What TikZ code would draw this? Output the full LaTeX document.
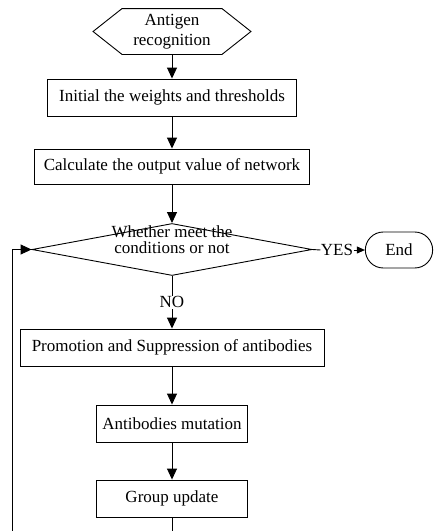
\documentclass[tikz,border=0pt]{standalone}
\usepackage{fontspec}
\setmainfont{Liberation Serif}
\usetikzlibrary{arrows.meta,shapes.geometric,shapes.misc}
\tikzset{
  box/.style={draw,rectangle,minimum height=37pt,inner sep=0pt},
  flow/.style={->,>={Triangle[length=11pt,width=10pt]}},
}
\begin{document}
\begin{tikzpicture}[x=1pt,y=-1pt,line width=0.9pt,font=\fontsize{17}{20}\selectfont]
\useasboundingbox (0,0) rectangle (437,531);
\clip (0,0) rectangle (437,531);
\node[minimum width=157pt,minimum height=45pt,align=center,inner sep=0pt] (ag) at (172,31.5) {Antigen\\recognition};
\draw (ag.west) -- ([xshift=29pt]ag.north west) -- ([xshift=-29pt]ag.north east) -- (ag.east)
  -- ([xshift=-29pt]ag.south east) -- ([xshift=29pt]ag.south west) -- cycle;
\node[box,minimum width=249pt] (init) at (172,97.5) {Initial the weights and thresholds};
\node[box,minimum width=275pt,minimum height=35pt] (calc) at (172,166.5) {Calculate the output value of network};
\node[draw,diamond,shape aspect=5.4,inner sep=0pt,minimum width=280pt,minimum height=52pt] (cond) at (172,249.5) {};
\node[align=center,inner sep=0pt,font=\fontsize{17}{16}\selectfont] (condtxt) at (172,240) {Whether meet the\\conditions or not};
\node[inner sep=0pt] (yes) at (337,250) {YES};
\node[draw,rounded rectangle,minimum width=74pt,minimum height=36pt] (end) at (399,250) {End};
\node[box,minimum width=304pt] (prom) at (172,347.5) {Promotion and Suppression of antibodies};
\node[box,minimum width=151pt] (mut) at (172,423.5) {Antibodies mutation};
\node[box,minimum width=151pt] (grp) at (172,498.5) {Group update};
\coordinate (lp) at (12,545);

\draw[flow] (ag) -- (init);
\draw[flow] (init) -- (calc);
\draw[flow] (calc) -- (cond);
\draw (cond.east) -- (yes.west);
\draw[->,>={Triangle[length=8pt,width=7pt]}] (yes.east) -- (end.west);
\draw[flow] (cond.south) -- node[fill=white,inner sep=1pt] (no) {NO} (prom.north);
\draw[flow] (prom) -- (mut);
\draw[flow] (mut) -- (grp);
\draw[flow] (grp.south) -- (grp.south |- lp) -- (lp) |- (cond.west);
\end{tikzpicture}
\end{document}
